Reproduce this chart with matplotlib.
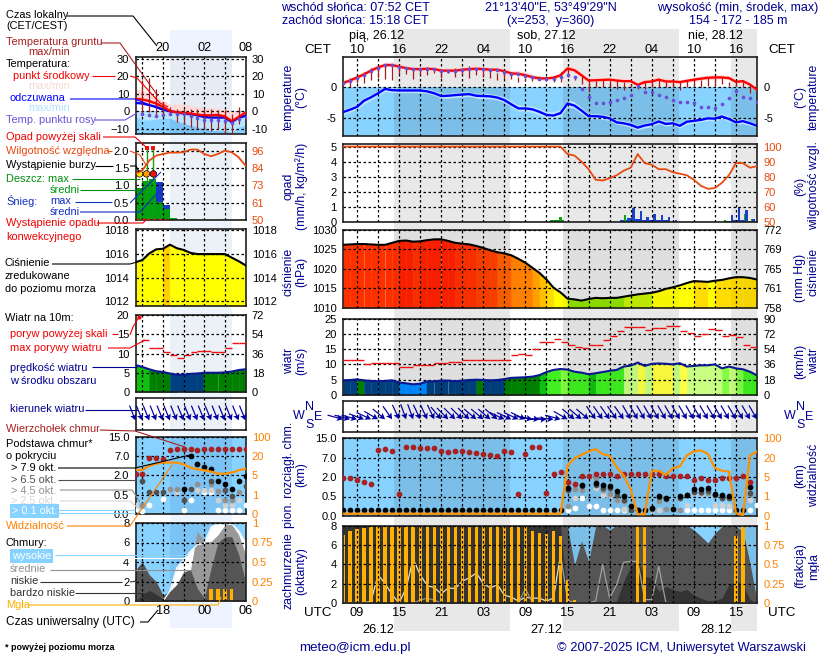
import numpy as np
import matplotlib
matplotlib.use("Agg")
import matplotlib.pyplot as plt
from matplotlib.ticker import NullLocator

na = float("nan")
W, H = 820, 660
NAVY = "#000090"
ORANGE = "#ff8000"
REDOR = "#e84a10"
SKY = "#88d2ff"
GRID = (0, (2, 2))
TICK = 8
PAD = 4.5

# main meteogram, hour 0 = 08 CET on 26.12
t_mid = [.67, 1.05, 1.55, 2.05, 2.67, 3.17, 3.55, 3.55, 3.3, 3.05, 2.9, 2.9, 2.95, 2.9, 2.65, 2.65, 2.65, 2.8, 2.9, 2.95,
         2.9, 2.8, 2.8, 2.55, 2.2, 2.15, 1.9, 1.6, 1.4, 1.4, 1.5, 1.9, 3.0, 2.7, 1.9, 1.05, 1.1, 1.15, 1.2, 1.05,
         .95, .95, .35, .8, .9, 1.2, .9, .9, .8, 1.0, 1.2, 1.35, 1.5, 1.55, 1.55, 1.45, .85, .95, .4, -.45]
t_max = [1.1, 1.5, 2, 2.5, 3.1, 3.6, 4, 4.1, 3.8, 3.4, 3.3, 3.3, 3.3, 3.3, 3.1, 3.1, 3.1, 3.2, 3.4, 3.4,
         3.3, 3.2, 3.2, 3, 2.7, 2.7, 2.4, 2.1, 1.8, 1.7, 1.9, 2.4, 3.5, 3.2, 2.4, 1.5, 1.5, 1.6, 1.6, 1.5,
         1.4, 1.4, .9, 1.3, 1.4, 1.7, 1.4, 1.3, 1.2, 1.4, 1.6, 1.8, 1.9, 2, 2, 1.9, 1.3, 1.3, .9, -.1]
t_min = [.3, .8, 1.3, 1.8, 2.4, 2.9, 3.3, 3.3, 3, 2.8, 2.6, 2.6, 2.7, 2.6, 2.4, 2.4, 2.4, 2.5, 2.6, 2.7,
         2.6, 2.5, 2.5, 2.3, 1.9, 1.9, 1.6, 1.3, 1.1, 1.1, 1.2, 1.6, 2.7, 2.3, 1.5, .8, .8, .9, .9, .8,
         .7, .7, .1, .5, .6, .9, .6, .6, .5, .7, .9, 1.1, 1.2, 1.3, 1.3, 1.2, .6, .7, .1, -.7]
feel = [-4.05, -3.65, -3.2, -2.2, -1.65, -1.0, -.3, -.5, -.55, -.55, -.55, -.55, -.7, -1, -1.45, -1.4, -1.3, -1.2, -1.15, -1.4,
        -1.45, -1.5, -1.7, -2.1, -2.8, -3.45, -3.45, -3.6, -4, -4.5, -4.6, -4.2, -2.65, -3, -3.8, -4.7, -4.7, -4.8, -5.05, -5.7,
        -5.85, -6.1, -6.55, -6.2, -6, -5.55, -5.95, -5.85, -6.25, -5.6, -5.45, -5.3, -5.05, -5.1, -4.75, -5.15, -5.7, -5.5, -5.85, -6.25]
feel_max = [-3.6, -3.2, -2.6, -1.7, -1.2, -.6, .0, -.1, -.2, -.2, -.2, -.2, -.3, -.6, -1, -1, -.9, -.8, -.8, -1,
            -1, -1.1, -1.3, -1.6, -2.3, -2.9, -3, -3.1, -3.5, -4, -4, -3.6, -2, -2.4, -3.3, -4.3, -4.3, -4.4, -4.6, -5.3,
            -5.4, -5.7, -6.2, -5.8, -5.6, -5.1, -5.5, -5.4, -5.9, -5.2, -5, -4.9, -4.7, -4.7, -4.3, -4.7, -5.3, -5.1, -5.5, -5.9]
feel_min = [-4.5, -4, -3.6, -2.7, -2.1, -1.4, -.7, -.9, -.9, -.9, -.9, -.9, -1, -1.3, -1.8, -1.8, -1.7, -1.6, -1.5, -1.8,
            -1.9, -1.9, -2.1, -2.5, -3.2, -3.9, -3.9, -4.1, -4.5, -5, -5.1, -4.7, -3.2, -3.5, -4.3, -5.1, -5.1, -5.2, -5.4, -6,
            -6.2, -6.5, -6.9, -6.6, -6.4, -5.9, -6.3, -6.2, -6.6, -6, -5.8, -5.6, -5.4, -5.5, -5.1, -5.5, -6, -5.9, -6.2, -6.5]
dew = [.6, 1, 1.5, 2, 2.6, 3.1, 3.5, 3.5, 3.25, 3, 2.85, 2.85, 2.9, 2.85, 2.6, 2.6, 2.6, 2.75, 2.85, 2.9,
       2.85, 2.75, 2.75, 2.5, 2.15, 2.1, 1.85, 1.55, 1.35, 1.35, 1.3, 1.65, 1.9, 1.55, -.3, -1.65, -2.65, -2.65, -2.4, -2.1,
       -1.7, -1.25, .2, -.85, -.85, -1.25, -1.65, -2.05, -2.45, -2.45, -2.65, -3.2, -3.2, -3.4, -2.75, -1.8, -.7, -1.55, -1.8, -2.4]
ground_max = [na, 1.4, 1.9, 2.5, 3, 3.3, 3.55, 3.55, 3, 3, 2.9, 3.1, 3.3, 2.75, 2.75, 2.75, 3, 3, 3.4, 3.1,
              3, 2.75, 2.2, 2.5, 2.5, 1.65, 1.4, 1.65, 1.8, 1.65, 1.8, 2.35, 2.9, 1.8, 1.8, 1, 1, 1.2, 1, 1,
              .85, .5, .5, .85, 1, 1.2, .75, .75, .75, 1, 1.2, 1.2, 1.4, 1.4, 1.4, .85, 1, .75, .5, -.2]
ground_min = [na, .05, .6, .6, 1.1, 1.4, 1.3, 1.1, 2.1, 2.1, 1.3, 2, 1.95, 2.2, 1.4, 2.2, 1.65, 1.95, 1.5, 1.95,
              1.65, 1.4, 1.1, 1.3, 1.3, .85, 1, 1, 1.1, 1.1, .75, .75, 1.55, 1.2, .5, -.75, -.05, -.05, -.05, -.3,
              -.45, -.05, -.3, -.3, -.05, -.05, -.05, -.05, -.5, -.05, .2, -.05, .2, .2, .5, .2, .1, -.05, -1, -.6]
humidity = [100] * 32 + [95, 94, 90, 85, 78, 77.5, 79, 81, 84, 86, 95, 89, 88, 85, 85, 83, 82, 81, 78, 74, 72, 72.5, 76, 81, 89, 89, 86, 87]
rain_hours = [30, 31, 40, 41, 42, 43, 44, 45, 46, 55, 56, 57, 58]
rain_base = [.1, .12, .05, .08, .08, .06, .1, .1, .05, .05, .1, .12, .06]
snow_hours = [40, 41, 42, 43, 44, 45, 46, 55, 56, 57, 58]
snow_base = [.1, .24, .2, .1, .14, .12, .1, .08, .14, .14, .08]
snow_spike_hours = [41.4, 42.5, 43.4, 44.4, 45.4, 46.4, 47.4, 55.5, 56.4, 57.5, 58.5]
snow_spike = [.9, .7, .35, .55, .45, .35, .15, .45, 1.0, .8, .2]
rain_spike_hours = [31.0, 40.2, 41.0, 45.4, 54.5, 57.3, 58.3]
rain_spike = [.3, .45, .12, .35, .12, .5, .2]
pressure = [1026.2, 1026.3, 1026.4, 1026.4, 1026.3, 1026.2, 1026.2, 1026.7, 1027.2, 1027.3, 1027, 1027.1, 1027.4, 1027.6, 1027.6, 1027.2, 1026.7, 1026.5, 1026.3, 1025.9,
            1025.4, 1024.8, 1024.3, 1024, 1023.5, 1022.6, 1021.6, 1020.3, 1019, 1017.3, 1015.2, 1014, 1012.4, 1012.2, 1011.9, 1012.3, 1012.6, 1012.5, 1012.6, 1012.6,
            1012.9, 1013.2, 1013.5, 1013.7, 1013.9, 1014.3, 1014.9, 1015.3, 1015.8, 1016.4, 1016.9, 1016.8, 1016.7, 1017, 1017.2, 1017.6, 1017.9, 1017.9, 1017.7, 1017.3]
wind = [4.8, 4.9, 5.1, 4.8, 4.6, 4.5, 4.6, 4.8, 4.1, 3.8, 3.5, 3.7, 4.45, 4.45, 4.7, 4.7, 4.5, 4.7, 4.9, 5,
        4.9, 4.8, 4.9, 5.2, 5.6, 5.7, 5.8, 6, 6.5, 7.5, 8.2, 8.5, 8.3, 7.6, 7.3, 6.8, 7.1, 7.5, 7.9, 8.2,
        9.3, 9.6, 10.6, 9.5, 10.2, 10.3, 10.2, 10, 10.4, 9.3, 9.5, 9.7, 9.7, 10, 8.7, 9.3, 8.7, 8.4, 7.6, 6.4]
gust = [11.3, 11.3, 11.3, 10, 10.6, 10.4, 10.4, 10.4, 9.2, 9.2, 9.8, 9.9, 9.7, 10.4, 10.4, 10.7, 10.7, 11.3, 11.3, 11.3,
        11.3, 11.3, 11.6, 11.3, 13, 13.3, 13, 15, 17.4, 17.4, 18.3, 17.3, 16.3, 15.8, 15.3, 16.3, 16.3, 18, 19.2, 20.8,
        22.2, 22.2, 22.2, 21.3, 21.8, 21.8, 22.5, 22.5, 20.9, 20.2, 19.2, 19.8, 21.5, 21.2, 19.2, 19.5, 19.1, 16.3, 15.8]
wind_dir = [-15, -15, -15, -20, -25, -30, -40, -55, -65, -70, -70, -65, -65, -65, -50, -45, -45, -45, -45, -40,
            -40, -40, -40, -25, -25, -25, -25, -10, -5, 0, -5, -15, -30, -40, -40, -40, -55, -55, -55, -55,
            -55, -60, -60, -60, -60, -60, -60, -60, -60, -60, -60, -60, -60, -60, -60, -60, -60, -60, -60, -60]
cloud_top = [1.96, 1.94, 1.76, 1.63, 1.5, 10.2, 10.3, 9.8, .67, 11.3, 11.3, 10.7, 10.7, 10.7, 9.8, 9.4, 9.8, 9.8, 9.4, 8.8,
             8.5, 8.1, 7.6, 9.8, 9.4, .67, 8.5, 11.3, 11.3, .75, 2.65, 3.3, 1.63, 1.48, 2.2, 2.2, 2.8, 2.8, 2.65, 2.3,
             2.8, 2.8, 2.65, 2.65, 2.65, 2.65, 2.2, 2.2, 2.2, 2.2, 1.78, 1.91, 1.78, 1.78, 1.91, 1.91, 1.91, 2.2, 1.63, na]
base_black = [.16] * 32 + [1.14, na, 1.39, na, 1.52, 1.39, 1.27, .93, .57, .25, .16, .16, .21, .57, .46, .18, .52, .65, 1.06, 1.06, 1.16, .73, .6, .52, .16, .16, 1.21, na]
base_dark = [na] * 32 + [1.01, na, 1.27, na, 1.39, 1.19, 1.14, .65, .41, .154, .146, na, .18, .48, .43, na, .46, .6, .88, .88, .93, .65, .46, .46, na, na, .75, na]
base_grey = [na] * 32 + [.266, 1.09, 1.01, na, 1.91, 1.01, .73, .41, .386, na, na, na, na, .395, .18, na, .163, na, .88, .75, .8, .6, .46, .46, na, na, .73, na]
base_light = [na] * 32 + [na, .455, 1.09, na, 1.19, .65, .6, .41, .18, na, na, na, .16, .163, na, na, na, .28, .75, .7, na, .283, .283, .25, na, na, .41, na]
base_white = [na] * 31 + [.16, .146, .197, .455, .266, .249, .163, .16, .16, .16, na, na, na, na, na, na, na, na, .16, .16, .16, .16, .16, .16, .16, .16, .16, .16, .28]
visibility = [.12] * 32 + [13.6, 19.5, 31, 45, 54.5, 34, 27, 12.6, 6.2, 2.4, .09, .09, 9.8, 9.8, 6.6, 11.8, 13.1, 28.6, 45, 49, 35, 11.8, 9.8, 9.2, .14, .05, 27.5, 45]
cloud_verylow = [8] * 32 + [0, 0, 0, 0, 0, 0, 0, .2, 2.2, 3.8, 4.3, 2.75, 2.6, 1.2, 1.7, 1.4, 1.2, 1.4, .85, .5, .25, .3, .5, 1.9, 2.25, 1.9, .35, 0]
cloud_low = [8] * 32 + [7.9, 3.95, 6.4, 4.3, 7.9, 8, 7.55, 8, 7.9, 7.9, 8, 8, 8, 7.9, 8, 8, 7.9, 8, 7.55, 6.9, 6.2, 7.2, 7.9, 8, 7.9, 7.4, 4.1, .2]
cloud_high = [0, 0, 0, 0, .2, 2.9, 2, .85, 0, 1.55, 4.55, 2.9, 1.8, 1.6, .95, 1.55, 1.5, 2.25, 2.6, 3.1,
              2, 1.55, 1.9, .8, .6, .2, .6, .5, .5, .2, .5, 5, .3, 0, 0, 0, .2, 3.95, .5, 1.9,
              4.2, 4.3, 4.3, .35, .35, 3.8, .07, 0, 0, 0, 0, 0, 0, 0, 0, 0, 0, 0, 0, 0]
cloud_mid = [na] * 10 + [0, .3, .5, .3, 0] + [na] * 10 + [0, 1.5, 0] + [na] * 32
fog = [.88, .935, .95, .965, .98] + [1] * 21 + [.98, .935, .9, .885, .935, .86, .3, .035] + [0] * 8 + [1, 1] + [0] * 12 + [.87, 1, 0, 0]

# small panels of the legend, hour 0 = 14 UTC
l_mid = [7.1, 6.7, 5.8, 4.4, 2.5, .2, -.6, -1, -1.3, -1.9, -2.3, -2.3, -2.1, -2.9, -5.6, -3.3, -.8]
l_max = [13, 12, 10, 8.3, 6.3, 4, 4, 4, 3.5, 2.5, 2, 2, 1.5, 1, .5, -.5, 0]
l_min = [5, 4.5, 3.5, 2.5, 1, -1.2, -2, -2.3, -2.5, -3, -3.5, -3.5, -3.3, -4, -6.5, -4.5, -2]
l_feel = [4.8, 4.4, 3.5, 2.5, 1, 0, -.6, -1.3, -1.7, -2.3, -3.3, -3.6, -3.6, -3.6, -6.2, -3.6, -2.7]
l_feel_max = [0, 0, 0, 0, 0, 0, -.5, -1, -1.5, -2, -2.5, -3, -3, -3, -5, -3, -2]
l_feel_min = [-3.5, -5, -5, -4.5, -4, -4, -5.5, -7, -8, -9, -10, -11, -11, -11, -12, -9, -8]
l_dew = [na, -1.3, -1.9, -2.7, -2.3, -1.3, -1.3, -1.7, -2.9, -3.6, -4.8, -4.8, -5.2, -5.6, -6.7, -4.2, -3]
l_ground_max = [na, 17.9, 18.8, 13, 5.4, 2.5, 1.5, 1.5, 1.5, 1.5, 1.5, 1.5, .6, .6, -1.3, 2.5, na]
l_ground_min = [na, -2.3, -.4, -2.3, -2.3, -2.3, -6.2, -7.1, -9, -10, -10, -11, -10, -12.9, -12.9, -7.1, na]
l_humidity = [80.7, 82.9, 89.4, 92.7, 93.8, 94.7, 94.7, 94.9, 96.7, 96.7, 93.8, 92.3, 93.8, 96, 94.9, 91.6, 86.1]
l_rain = [.93, 1.12, 1.17, .52, .33, .07, 0]
l_snow = [.93, 1.12, 1.17, 1.1, .43, .07, 0]
storm_hours = [.6, 1.6, 2.6]
storm_level = [1.33, 1.33, 1.33]
storm_colors = ["#ffe000", "#ffa000", "#f01010"]
rain_peak = [.93, 2.08, 2.08]
over_hours = [1.6, 2.6]
over_level = [2.08, 2.08]
conv_hours = [0, 4.5]
conv_level = [.03, .03]
l_pressure = [1015.3, 1015.5, 1016.05, 1016.4, 1016.45, 1016.8, 1016.5, 1016.35, 1016.1, 1016, 1016, 1016, 1016, 1016, 1015.7, 1015.4, 1015.05]
l_wind = [7, 6.5, 5.9, 5.4, 5.2, 4.8, 4.5, 4.5, 4.7, 4.8, 5, 5, 5, 5.1, 5.3, 5.7, 5.9]
l_gust = [na, 13.4, 11.5, 11.5, 10.4, 9.6, 8.9, 9.7, 10.4, 10.7, 10.7, 10.5, 10.5, 11.5, 12.6, 12.8]
gust_over_hours = [.45]
gust_over = [19.6]
l_dir = [-68] * 17
l_top = [2.26, 2.26, 6.5, 6.5, 6.2, 9.4, 10.1, 10.1, 10.1, 9.4, 10.1, 10.1, 10.1, 10.1, 10.1, 10.1, 10.1]
l_black = [na, na, na, na, na, na, na, .95, 7, 5, 4.2, 3.6, 1.55, 1.3, .95, 1.55, 1.94]
l_dark = [na, 1.55, .72, .72, .72, na, na, .37, .95, na, na, 1.55, na, .9, .46, na, 1.2]
l_grey = [na, .23, na, na, na, .95, .95, na, na, 1.3, na, 1.3, .8, .37, .37, .72, na]
l_light = [.24, na, na, na, na, .95, .72, na, na, .85, .85, .9, .37, .23, .23, .37, na]
l_white = [.14, .09, .23, na, .4, na, na, .11, .37, na, .72, .72, .11, .11, .11, .11, .23]
l_vis = [9.2, 9.2, 12.3, 14, 14.9, 14.9, 14.9, 13.6, 11, 9.7, 8.9, 7.9, 6.3, 6.3, 7.1, 8.9, 10.2]
l_verylow = [0, .6, 1.1, .7, .2, 0, 0, 0, 0, 0, 0, 0, 0, 0, 0, 0, 0]
l_low = [3.2, 4, 2.7, 2, .6, 1, 1.7, 3, 3.2, 1.3, .3, 3.4, 6, 6.6, 6.6, 4.8, 2]
l_midc = [0, 0, 0, 0, 0, 0, 0, 2, 3.2, 7.2, 6.1, 6.1, 6.8, 7.8, 7.9, 6.8, 4.8]
l_high = [0, 0, 0, 0, 0, 1, 3.4, 4.2, 5.1, 5.8, 5.9, 7.6, 7.9, 7.9, 7.9, 7.2, 6]
l_fog = [0, 0, 0, 0, 0, 0, 0, 0, 0, 0, 0, .15, .15, .15, .15, 0, 0]

# axis labels
night_start = [7.3, 31.3, 55.3]
night_end = [23.87, 47.87, 59]
label_hours = [2, 8, 14, 20, 26, 32, 38, 44, 50, 56]
cet_labels = ["10", "16", "22", "04", "10", "16", "22", "04", "10", "16"]
utc_labels = ["09", "15", "21", "03", "09", "15", "21", "03", "09", "15"]
km_ticks = [0, .5, 2, 7, 15]
km_labels = ["0.0", "0.5", "2.0", "7.0", "15.0"]
vis_ticks = [0, 1, 5, 20, 100]
scale_pos = [0, 1, 2, 3, 4]
pressure_steps = [1012.8, 1013.8, 1016.7, 1018, 1019.5, 1021, 1023.5, 1024.5, 1026, 1027, 1100]
pressure_colors = ["#90e000", "#c4f000", "#ffff00", "#ffdc00", "#ffc000", "#ffa000", "#ff8000", "#ff6000", "#ff4000", "#ff3000", "#ff2200"]
wind_steps = [4.4, 4.98, 6.4, 7, 8.4, 9, 10, 100]
wind_colors = ["#0088ff", "#004080", "#008000", "#10c010", "#40f020", "#80ff40", "#c8ff80", "#ffff40"]


def add_panel(fig, x0, y0, x1, y1, face="white"):
    ax = fig.add_axes([x0 / W, 1 - y1 / H, (x1 - x0) / W, (y1 - y0) / H], facecolor=face)
    for s in ax.spines.values():
        s.set_linewidth(1.2)
        s.set_color("#202020")
    ax.tick_params(length=0, labelsize=TICK, pad=PAD)
    ax.set_axisbelow(False)
    ax.grid(True, color="black", ls=GRID, lw=0.9)
    ax.set_xticklabels([])
    return ax


def setup(ax, xlim, xticks, ylim, yticks, ylabels=None):
    ax.set_xlim(*xlim)
    ax.set_xticks(xticks)
    ax.set_xticklabels([])
    ax.set_ylim(*ylim)
    ax.set_yticks(yticks)
    if ylabels is not None:
        ax.set_yticklabels(ylabels)


def style_right(rt, ticks, labels, color):
    rt.set_yticks(ticks)
    rt.set_yticklabels(labels, color=color)
    rt.tick_params(length=0, labelsize=TICK, pad=PAD)
    rt.grid(False)
    rt.patch.set_visible(False)
    for s in rt.spines.values():
        s.set_visible(False)


def right_axis(ax, ticks, labels, color="black"):
    rt = ax.twinx()
    rt.set_ylim(ax.get_ylim())
    style_right(rt, ticks, labels, color)
    return rt


def night(ax, starts, ends, color="black", alpha=0.09, z=0.5):
    for a, b in zip(starts, ends):
        ax.axvspan(a, b, color=color, alpha=alpha, lw=0, zorder=z)


def columns(ax, xs, vals, base, steps, colors, offset=0):
    for i in range(len(xs) - 1):
        c = colors[np.searchsorted(steps, vals[i + offset])]
        ax.fill_between(xs[i:i + 2], base, vals[i:i + 2], color=c, lw=0.3, zorder=1)


def km_scale(ax):
    ax.set_yscale("function", functions=(lambda v: np.interp(v, km_ticks, scale_pos),
                                         lambda p: np.interp(p, scale_pos, km_ticks)))
    ax.yaxis.set_minor_locator(NullLocator())


def vis_axis(ax):
    rt = ax.twinx()
    rt.set_yscale("function", functions=(lambda v: np.interp(v, vis_ticks, scale_pos),
                                         lambda p: np.interp(p, scale_pos, vis_ticks)))
    rt.set_ylim(0, 100)
    rt.yaxis.set_minor_locator(NullLocator())
    style_right(rt, vis_ticks, ["0", "1", "5", "20", "100"], ORANGE)
    return rt


def base_dots(ax, xs, series):
    for vals, color in series:
        ax.scatter(xs, vals, s=17, color=color, lw=0, zorder=3)


def temp_panel(ax, xs, mid, hi, lo, fe, fe_hi, fe_lo, dw, g_hi, g_lo, dew_size):
    ax.axhspan(ax.get_ylim()[0], 0, color=SKY, lw=0, zorder=0.2)
    ax.fill_between(xs, lo, hi, color="#ffd8d8", lw=0, zorder=1)
    ax.fill_between(xs, fe_lo, fe_hi, color="#bce6ff", lw=0, zorder=1)
    ax.vlines(xs, g_lo, g_hi, color="#a81818", lw=.9, zorder=3.1)
    ax.plot(xs, fe, color="#0000ff", lw=1.7, zorder=3)
    ax.plot(xs, mid, color="#ff0000", lw=1.7, zorder=3)
    ax.scatter(xs, dw, s=dew_size, color="#6a50d8", lw=0, zorder=3.2)


def cloud_fog(ax, xs, vals, width, color="#ffb000"):
    ax.bar(xs, np.array(vals) * 8, width=width, color=color, lw=0, zorder=2.2)


def arrows(ax, xs, angles_deg, y):
    ang = np.radians(angles_deg)
    ax.quiver(xs, np.full(len(xs), y), np.cos(ang), np.sin(ang), angles="uv", scale_units="dots", scale=1 / 16,
              units="dots", width=1.2, headwidth=5.5, headlength=5, headaxislength=4.2, pivot="tip",
              color="#0000a0", clip_on=False, zorder=4)


def main():
    plt.rcParams["font.family"] = ["Liberation Sans", "DejaVu Sans"]
    fig = plt.figure(figsize=(W / 100, H / 100), dpi=100, facecolor="white")

    hours = np.arange(60)
    xl = (0, 59)
    xt = list(range(2, 59, 3))
    lhours = np.arange(17)
    lxl = (0, 16)
    lxt = [1, 4, 7, 10, 13]
    mx0, mx1 = 343, 757
    lx0, lx1 = 135.5, 245.5
    blue = "#1040a0"

    # background with the day and night bands
    bg = fig.add_axes([0, 0, 1, 1], zorder=-1)
    bg.set_xlim(0, W)
    bg.set_ylim(H, 0)
    bg.axis("off")
    for a, b in zip(night_start, night_end):
        bg.axvspan(mx0 + a * (mx1 - mx0) / 59, mx0 + b * (mx1 - mx0) / 59, ymin=1 - 631 / H, ymax=1 - 29 / H, color="#e8e8e8", lw=0)
    bg.axvspan(lx0 + 5 * (lx1 - lx0) / 16, lx0 + 14 * (lx1 - lx0) / 16, ymin=1 - 628 / H, ymax=1 - 30 / H, color="#eef4ff", lw=0)

    # temperature
    ax = add_panel(fig, mx0, 57, mx1, 136)
    setup(ax, xl, xt, (-7.9, 4.85), [-5, 0], ["-5", "0"])
    night(ax, night_start, night_end)
    temp_panel(ax, hours, t_mid, t_max, t_min, feel, feel_max, feel_min, dew, ground_max, ground_min, 7)
    right_axis(ax, [-5, 0], ["-5", "0"])

    # precipitation and humidity
    ax = add_panel(fig, mx0, 144, mx1, 222)
    setup(ax, xl, xt, (0, 5.17), [0, 1, 2, 3, 4, 5])
    night(ax, night_start, night_end)
    ax.bar(rain_hours, rain_base, width=1, color="#109010", lw=0, zorder=1)
    ax.bar(snow_hours, snow_base, width=1, color="#1840c8", lw=0, zorder=1.1)
    ax.bar(rain_spike_hours, rain_spike, width=.3, color="#10a010", lw=0, zorder=1.2)
    ax.bar(snow_spike_hours, snow_spike, width=.3, color="#1840c8", lw=0, zorder=1.2)
    rh = ax.twinx()
    rh.set_ylim(50, 50 + 5.17 * 10)
    style_right(rh, [50, 60, 70, 80, 90, 100], ["50", "60", "70", "80", "90", "100"], REDOR)
    rh.plot(hours, humidity, color=REDOR, lw=1.3)

    # pressure
    ax = add_panel(fig, mx0, 230, mx1, 308)
    setup(ax, xl, xt, (1010, 1030), [1010, 1015, 1020, 1025, 1030])
    columns(ax, hours, pressure, 1010, pressure_steps, pressure_colors)
    night(ax, night_start, night_end, alpha=0.035, z=1.5)
    night(ax, night_start, night_end, alpha=0.09, z=0.5)
    ax.plot(hours, pressure, color="black", lw=1.5, zorder=3)
    right_axis(ax, [1010, 1015, 1020, 1025, 1030], ["758", "761", "765", "769", "772"])

    # wind
    ax = add_panel(fig, mx0, 318.5, mx1, 395)
    setup(ax, xl, xt, (0, 25), [0, 5, 10, 15, 20, 25])
    columns(ax, hours, wind, 0, wind_steps, wind_colors)
    night(ax, night_start, night_end, alpha=0.035, z=1.5)
    night(ax, night_start, night_end, alpha=0.09, z=0.5)
    ax.hlines(gust, hours[:-1], hours[1:], color="#f01010", lw=1, zorder=3)
    ax.plot(hours, wind, color="#0a1890", lw=1.5, zorder=3)
    right_axis(ax, [0, 5, 10, 15, 20, 25], ["0", "18", "36", "54", "72", "90"])

    # wind direction
    ax = add_panel(fig, mx0, 401, mx1, 431.5)
    setup(ax, xl, xt, (0, 1), [])
    night(ax, night_start, night_end)
    arrows(ax, hours, wind_dir, .4)

    # cloud base, top and visibility
    ax = add_panel(fig, mx0, 438, mx1, 516, SKY)
    km_scale(ax)
    setup(ax, xl, xt, (0, 15), km_ticks, km_labels)
    night(ax, night_start, night_end)
    base_dots(ax, hours, [(base_white, "white"), (base_light, "#d0d0d0"), (base_grey, "#909090"), (base_dark, "#505050"),
                          (base_black, "black"), (cloud_top, "#a82020")])
    vis_axis(ax).plot(hours, visibility, color="#ff9000", lw=1.6)

    # cloud cover and fog
    ax = add_panel(fig, mx0, 525.5, mx1, 603, SKY)
    setup(ax, xl, xt, (0, 8), [0, 2, 4, 6, 8])
    night(ax, night_start, night_end)
    ax.fill_between(hours, 0, cloud_low, color="#555555", lw=0, zorder=1)
    ax.fill_between(hours, 0, cloud_verylow, color="#343434", lw=0, zorder=1.1)
    ax.plot(hours[:32], cloud_high[:32], color="#e0e0e0", lw=0.9, zorder=1.5)
    ax.plot(hours[31:], cloud_high[31:], color="#a0a0a0", lw=0.9, zorder=1.5)
    ax.plot(hours, cloud_mid, color="#909090", lw=0.9, zorder=1.5)
    cloud_fog(ax, hours, fog, 0.48)
    right_axis(ax, [0, 2, 4, 6, 8], ["0", "0.25", "0.5", "0.75", "1"], ORANGE)

    # legend panels, same variables over the first 16 hours
    ax = add_panel(fig, lx0, 57, lx1, 134)
    setup(ax, lxl, lxt, (-13, 31), [-10, 0, 10, 20, 30])
    night(ax, [5], [14], color=blue, alpha=0.1)
    temp_panel(ax, lhours, l_mid, l_max, l_min, l_feel, l_feel_max, l_feel_min, l_dew, l_ground_max, l_ground_min, 7)
    right_axis(ax, [-10, 0, 10, 20, 30], ["-10", "0", "10", "20", "30"])

    ax = add_panel(fig, lx0, 143, lx1, 220)
    setup(ax, lxl, lxt, (0, 2.22), [0, .5, 1, 1.5, 2], ["0.0", "0.5", "1.0", "1.5", "2.0"])
    night(ax, [5], [14], color=blue, alpha=0.08)
    bar_hours = lhours[:7]
    ax.bar(bar_hours, l_snow, width=1, align="edge", color="#1838c8", lw=0, zorder=1)
    ax.bar(bar_hours, l_rain, width=1, align="edge", color="#00a010", lw=0, zorder=1.1)
    ax.vlines(storm_hours, 0, rain_peak, color="#10a010", lw=1, zorder=3)
    ax.scatter(storm_hours, storm_level, s=22, c=storm_colors, edgecolors="black", lw=.5, zorder=4)
    ax.scatter(over_hours, over_level, s=9, marker="s", color="#f01010", lw=0, zorder=4)
    ax.plot(conv_hours, conv_level, color="#f01010", lw=1, ls=GRID, zorder=3)
    rh = ax.twinx()
    rh.set_ylim(50, 50 + 2.22 * 23)
    style_right(rh, [50, 61.5, 73, 84.5, 96], ["50", "61", "73", "84", "96"], REDOR)
    rh.plot(lhours, l_humidity, color=REDOR, lw=1.3)

    ax = add_panel(fig, lx0, 229.3, lx1, 306)
    setup(ax, lxl, lxt, (1011.6, 1018.1), [1012, 1014, 1016, 1018])
    night(ax, [5], [14], color=blue, alpha=0.08)
    columns(ax, lhours, l_pressure, 1011.6, [1016.7, 1100], ["#ffff00", "#ffd000"], offset=1)
    ax.plot(lhours, l_pressure, color="black", lw=1.5, zorder=3)
    right_axis(ax, [1012, 1014, 1016, 1018], ["1012", "1014", "1016", "1018"])

    ax = add_panel(fig, lx0, 315, lx1, 392)
    setup(ax, lxl, lxt, (0, 20), [0, 5, 10, 15, 20])
    night(ax, [5], [14], color=blue, alpha=0.08)
    columns(ax, lhours, l_wind, 0, wind_steps, wind_colors)
    ax.hlines(l_gust, lhours[:-1], lhours[1:], color="#f01010", lw=1, zorder=3)
    ax.scatter(gust_over_hours, gust_over, s=9, color="#f01010", lw=0, zorder=4)
    ax.plot(lhours, l_wind, color="#0a1890", lw=1.5, zorder=3)
    right_axis(ax, [0, 5, 10, 15, 20], ["0", "18", "36", "54", "72"])

    ax = add_panel(fig, lx0, 398, lx1, 430)
    setup(ax, lxl, lxt, (0, 1), [])
    night(ax, [5], [14], color=blue, alpha=0.08)
    arrows(ax, lhours, l_dir, .3)

    ax = add_panel(fig, lx0, 436.7, lx1, 514, SKY)
    km_scale(ax)
    setup(ax, lxl, lxt, (0, 15), km_ticks, km_labels)
    night(ax, [5], [14], color=blue, alpha=0.1)
    base_dots(ax, lhours, [(l_white, "white"), (l_light, "#d0d0d0"), (l_grey, "#909090"), (l_dark, "#505050"),
                           (l_black, "black"), (l_top, "#a82020")])
    vis_axis(ax).plot(lhours, l_vis, color="#ff9000", lw=1.6)

    ax = add_panel(fig, lx0, 523, lx1, 601, SKY)
    setup(ax, lxl, lxt, (0, 8), [0, 2, 4, 6, 8])
    night(ax, [5], [14], color=blue, alpha=0.1)
    ax.fill_between(lhours, 0, l_high, color="white", lw=0, zorder=1)
    ax.fill_between(lhours, 0, l_midc, color="#999999", lw=0, zorder=1.1)
    ax.fill_between(lhours, 0, l_low, color="#555555", lw=0, zorder=1.2)
    ax.fill_between(lhours, 0, l_verylow, color="#343434", lw=0, zorder=1.3)
    ax.plot(lhours, l_high, color="white", lw=0.9, zorder=1.5)
    cloud_fog(ax, lhours, l_fog, 0.48)
    right_axis(ax, [0, 2, 4, 6, 8], ["0", "0.25", "0.5", "0.75", "1"], ORANGE)

    # all texts and leader lines in pixel coordinates
    ov = fig.add_axes([0, 0, 1, 1], zorder=20)
    ov.set_xlim(0, W)
    ov.set_ylim(H, 0)
    ov.axis("off")

    def txt(x, y, s, color="black", ha="left", size=7.9, **kw):
        ov.text(x, y, s, color=color, ha=ha, va="center", fontsize=size, **kw)

    def lead(pts, color="black", lw=0.8):
        ov.plot([p[0] for p in pts], [p[1] for p in pts], color=color, lw=lw, solid_capstyle="butt")

    # header
    big = 9
    txt(355, 8, "wschód słońca: 07:52 CET", NAVY, "center", big)
    txt(355, 21, "zachód słońca: 15:18 CET", NAVY, "center", big)
    txt(551, 8, "21°13'40\"E, 53°49'29\"N", NAVY, "center", big)
    txt(551, 21, "(x=253,  y=360)", NAVY, "center", big)
    txt(818, 8, "wysokość (min, środek, max)", NAVY, "right", big)
    txt(738, 21, "154 - 172 - 185 m", NAVY, "center", big)
    txt(349, 36, "pią, 26.12", size=big)
    txt(517, 36, "sob, 27.12", size=big)
    txt(688, 36, "nie, 28.12", size=big)
    txt(318, 50, "CET", ha="center", size=9.6)
    txt(782, 50, "CET", ha="center", size=9.6)
    txt(318, 613, "UTC", ha="center", size=9.6)
    txt(782, 613, "UTC", ha="center", size=9.6)
    for h, c, u in zip(label_hours, cet_labels, utc_labels):
        px = mx0 + h * (mx1 - mx0) / 59
        txt(px, 50, c, ha="center", size=9.2)
        txt(px, 613, u, ha="center", size=9.2)
    txt(378, 630, "26.12", ha="center", size=9.2)
    txt(546, 630, "27.12", ha="center", size=9.2)
    txt(716, 630, "28.12", ha="center", size=9.2)

    # rotated axis titles
    rows = [
        (97, 97, "temperature", "(°C)", "(°C)", "temperature"),
        (186, 186, "opad", "(mm/h, kg/m²/h)", "(%)", "wilgotność wzgl."),
        (272, 278, "ciśnienie", "(hPa)", "(mm Hg)", "ciśnienie"),
        (361, 361, "wiatr", "(m/s)", "(km/h)", "wiatr"),
        (475, 476, "pion. rozciągł. chm.", "(km)", "(km)", "widzialność"),
        (571, 566, "zachmurzenie", "(oktanty)", "(frakcja)", "mgła"),
    ]
    for y, yr, a, b, c, d in rows:
        for x, yy, s in ((289, y, a), (301.5, y, b), (800, yr, c), (814, y if d != "mgła" else yr, d)):
            ov.text(x, yy, s, color=NAVY, rotation=90, ha="center", va="center", fontsize=8.8)

    # compass letters
    for dx in (0, 491):
        txt(299 + dx, 416, "W", NAVY, "center", 9)
        txt(310 + dx, 407, "N", NAVY, "center", 9)
        txt(318 + dx, 417, "E", NAVY, "center", 9)
        txt(310 + dx, 425, "S", NAVY, "center", 9)

    # footer
    txt(355, 648, "meteo@icm.edu.pl", NAVY, "center", 9.6)
    txt(806, 648, "© 2007-2025 ICM, Uniwersytet Warszawski", NAVY, "right", 9.3)
    txt(5, 647, "* powyżej poziomu morza", size=6.5, fontweight="bold")

    # local and UTC hours of the legend
    for h, a, b in zip([4, 10, 16], ["20", "02", "08"], ["18", "00", "06"]):
        px = lx0 + h * (lx1 - lx0) / 16
        txt(px, 48, a, ha="center", size=9.2)
        txt(px, 611, b, ha="center", size=9.2)

    # legend column
    brown = "#a82020"
    txt(6, 15, "Czas lokalny")
    txt(6, 26, "(CET/CEST)")
    lead([(67, 16), (133, 16), (157, 46)])
    txt(6, 42, "Temperatura gruntu", brown)
    txt(28, 52, "max/min", brown)
    lead([(101, 43), (120, 43), (158, 96)], brown)
    txt(6, 64, "Temperatura:")
    txt(13, 76, "punkt środkowy", "#f00000")
    lead([(92, 76), (115, 76)], "#f00000")
    lead([(130, 76), (137, 78), (160, 103), (168, 107)], "#f00000")
    txt(28, 86, "max/min", "#f8d8d0")
    txt(10, 98, "odczuwana", "#0000ff")
    lead([(70, 99), (135, 99), (162, 110)], "#0000ff")
    txt(28, 108, "max/min", "#b0e0ff")
    txt(6, 120, "Temp. punktu rosy", "#6a50d8")
    lead([(95, 120), (125, 120), (137, 113)], "#6a50d8")
    txt(6, 137, "Opad powyżej skali", "#f00000")
    lead([(103, 137), (135, 137), (146, 147)], "#f00000")
    txt(6, 151, "Wilgotność względna", REDOR)
    lead([(107, 151), (112, 151)], REDOR)
    lead([(130, 151), (140, 155), (146, 165)], REDOR)
    txt(6, 165, "Wystąpienie burzy")
    lead([(95, 166), (113, 166)])
    lead([(130, 166), (136, 166), (139, 172)])
    txt(6, 179, "Deszcz: max", "#009010")
    lead([(72, 179), (140, 179)], "#009010")
    txt(50, 190, "średni", "#009010")
    lead([(80, 190), (145, 190)], "#009010")
    txt(6, 201, "Śnieg:", "#1030c0")
    txt(50, 201, "max", "#1030c0")
    lead([(75, 202), (112, 202)], "#1030c0")
    lead([(130, 203), (161, 172)], "#1030c0")
    txt(50, 212, "średni", "#1030c0")
    lead([(80, 212), (140, 212), (160, 190)], "#1030c0")
    txt(6, 223, "Wystąpienie opadu", "#f00000")
    txt(6, 237, "konwekcyjnego", "#f00000")
    lead([(97, 223), (143, 223), (147, 219)], "#f00000")
    txt(5, 263, "Ciśnienie")
    txt(5, 276, "zredukowane")
    txt(5, 289, "do poziomu morza")
    lead([(52, 264), (130, 264), (137, 262)])
    txt(5, 318, "Wiatr na 10m:")
    txt(10, 334, "poryw powyżej skali", "#f00000")
    lead([(112, 334), (118, 334)], "#f00000")
    lead([(130, 335), (133, 327), (139, 317)], "#f00000")
    txt(10, 348, "max porywy wiatru", "#f00000")
    lead([(108, 348), (130, 348), (145, 340)], "#f00000")
    txt(10, 368, "prędkość wiatru", NAVY)
    txt(10, 381, "w środku obszaru", NAVY)
    lead([(92, 367), (137, 367)], NAVY)
    txt(10, 409, "kierunek wiatru", NAVY)
    lead([(85, 410), (138, 410)], NAVY)
    txt(6, 429, "Wierzchołek chmur", brown)
    lead([(100, 430), (135, 431), (185, 447)], brown)
    txt(6, 444, "Podstawa chmur*")
    txt(6, 456, "o pokryciu")
    txt(11, 468, "> 7.9 okt.")
    lead([(58, 468), (135, 468), (190, 455)])
    txt(11, 480, "> 6.5 okt.", "#505050")
    lead([(58, 480), (135, 480)], "#505050")
    txt(11, 491, "> 4.5 okt.", "#909090")
    lead([(60, 490), (132, 490), (140, 502)], "#909090")
    txt(11, 501, "> 2.5 okt.", "#d8d8d8")
    lead([(60, 501), (130, 501), (140, 510)], "#d8d8d8")
    txt(12, 511, "> 0.1 okt.", "white", bbox=dict(facecolor=SKY, edgecolor="none", pad=1.2))
    lead([(56, 510), (135, 510)], SKY)
    lead([(56, 513), (135, 513)], SKY)
    txt(6, 526, "Widzialność", ORANGE)
    lead([(67, 526), (130, 526), (172, 465)], ORANGE)
    txt(6, 543, "Chmury:")
    txt(12, 556, "wysokie", "white", bbox=dict(facecolor=SKY, edgecolor="none", pad=1.2))
    lead([(55, 555), (187, 555)], SKY)
    lead([(55, 558), (187, 558)], "white")
    txt(10, 569, "średnie", "#909090")
    lead([(50, 570), (195, 570)], "#909090")
    txt(10, 581, "niskie", "#333333")
    lead([(40, 582), (122, 582)], "#333333")
    lead([(130, 582), (137, 581)], "#333333")
    txt(10, 593, "bardzo niskie", "#333333")
    lead([(75, 593), (145, 593)], "#333333")
    txt(6, 605, "Mgła", "#ffb000")
    lead([(28, 605), (218, 605), (221, 597)], "#ffb000")
    txt(6, 622, "Czas uniwersalny (UTC)", size=8.6)
    lead([(140, 622), (148, 622), (158, 610)])

    fig.savefig("out.png", dpi=100, facecolor="white")


if __name__ == "__main__":
    main()
